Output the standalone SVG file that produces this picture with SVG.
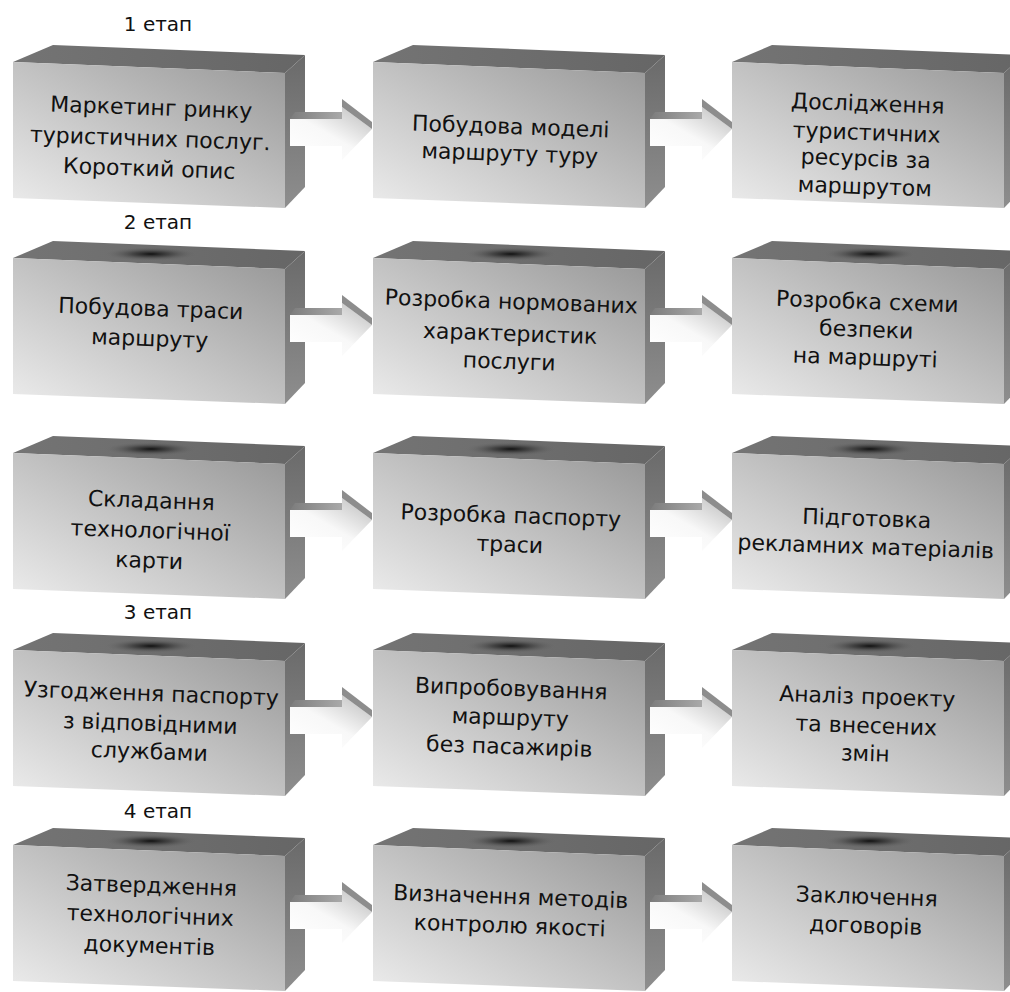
<svg xmlns="http://www.w3.org/2000/svg" xmlns:xlink="http://www.w3.org/1999/xlink" width="1010" height="992" viewBox="0 0 1010 992">
<style>
.front{fill:url(#gFront)}
.side{fill:url(#gSide)}
.top{fill:url(#gTop)}
.t{font-family:"DejaVu Sans","Liberation Sans",sans-serif;font-size:22px;fill:#111;text-anchor:middle}
.st{font-family:"DejaVu Sans","Liberation Sans",sans-serif;font-size:20px;fill:#111;text-anchor:middle}
</style>
<defs>
<linearGradient id="gFront" x1="0" y1="1" x2="1" y2="0">
<stop offset="0" stop-color="#ececec"/>
<stop offset="0.5" stop-color="#c2c2c2"/>
<stop offset="1" stop-color="#979797"/>
</linearGradient>
<linearGradient id="gSide" x1="0" y1="0" x2="0" y2="1">
<stop offset="0" stop-color="#6a6a6a"/>
<stop offset="1" stop-color="#8e8e8e"/>
</linearGradient>
<linearGradient id="gTop" x1="0" y1="0" x2="1" y2="0">
<stop offset="0" stop-color="#747474"/>
<stop offset="1" stop-color="#666666"/>
</linearGradient>
<radialGradient id="gSpot">
<stop offset="0" stop-color="#111111" stop-opacity="1"/>
<stop offset="0.4" stop-color="#333333" stop-opacity="0.7"/>
<stop offset="1" stop-color="#6b6b6b" stop-opacity="0"/>
</radialGradient>
<linearGradient id="gArrow" x1="0" y1="0.9" x2="0.8" y2="0">
<stop offset="0" stop-color="#ffffff"/>
<stop offset="0.5" stop-color="#f8f8f8"/>
<stop offset="1" stop-color="#c6c6c6"/>
</linearGradient>
<linearGradient id="gBevel" x1="0" y1="0" x2="1" y2="0">
<stop offset="0" stop-color="#7c7c7c"/>
<stop offset="1" stop-color="#a9a9a9"/>
</linearGradient>
<g id="box">
<polygon class="top" points="0,0 40,-17 292,-7 272,11"/>
<polygon class="side" points="272,11 292,-7 292,125 272,146"/>
<polygon class="front" points="0,0 272,11 272,146 0,136"/>
</g>
<ellipse id="spot" cx="138" cy="-4" rx="46" ry="7" fill="url(#gSpot)"/>
<g id="arrow">
<polygon fill="url(#gBevel)" points="282,50 329,50 329,57 277,57"/>
<polygon fill="url(#gArrow)" points="277,57 329,57 329,45 359,67 329,98 329,84 277,84"/>
<polygon fill="#8d8d8d" points="329,37 359,60 359,67 329,45"/>
</g>
</defs>

<g id="labels">
<text class="st" x="158" y="31">1 етап</text>
<text class="st" x="158" y="229">2 етап</text>
<text class="st" x="158" y="619">3 етап</text>
<text class="st" x="158" y="818">4 етап</text>
</g>

<g id="n11" transform="translate(13,62)"><use xlink:href="#box"/>
<text class="t" transform="rotate(2 137 84)"><tspan x="137" y="53">Маркетинг ринку</tspan><tspan x="137" y="84">туристичних послуг.</tspan><tspan x="137" y="114">Короткий опис</tspan></text></g>
<g id="n12" transform="translate(373,62)"><use xlink:href="#box"/>
<text class="t" transform="rotate(2 137 85)"><tspan x="137" y="72">Побудова моделі</tspan><tspan x="137" y="99">маршруту туру</tspan></text></g>
<g id="n13" transform="translate(732,62)"><use xlink:href="#box"/>
<text class="t" transform="rotate(2 134 90)"><tspan x="134" y="49">Дослідження</tspan><tspan x="134" y="78">туристичних</tspan><tspan x="134" y="104">ресурсів за</tspan><tspan x="134" y="132">маршрутом</tspan></text></g>

<g id="n21" transform="translate(13,258)"><use xlink:href="#box"/><use xlink:href="#spot"/>
<text class="t" transform="rotate(2 137 73)"><tspan x="137" y="58">Побудова траси</tspan><tspan x="137" y="88">маршруту</tspan></text></g>
<g id="n22" transform="translate(373,258)"><use xlink:href="#box"/><use xlink:href="#spot"/>
<text class="t" transform="rotate(2 137 81)"><tspan x="137" y="51">Розробка нормованих</tspan><tspan x="137" y="83">характеристик</tspan><tspan x="137" y="111">послуги</tspan></text></g>
<g id="n23" transform="translate(732,258)"><use xlink:href="#box"/><use xlink:href="#spot"/>
<text class="t" transform="rotate(2 134 79)"><tspan x="134" y="51">Розробка схеми</tspan><tspan x="134" y="79">безпеки</tspan><tspan x="134" y="107">на маршруті</tspan></text></g>

<g id="n31" transform="translate(13,453)"><use xlink:href="#box"/><use xlink:href="#spot"/>
<text class="t" transform="rotate(2 137 85)"><tspan x="137" y="55">Складання</tspan><tspan x="137" y="85">технологічної</tspan><tspan x="137" y="115">карти</tspan></text></g>
<g id="n32" transform="translate(373,453)"><use xlink:href="#box"/><use xlink:href="#spot"/>
<text class="t" transform="rotate(2 137 85)"><tspan x="137" y="70">Розробка паспорту</tspan><tspan x="137" y="99">траси</tspan></text></g>
<g id="n33" transform="translate(732,453)"><use xlink:href="#box"/><use xlink:href="#spot"/>
<text class="t" transform="rotate(2 134 87)"><tspan x="134" y="73">Підготовка</tspan><tspan x="134" y="101">рекламних матеріалів</tspan></text></g>

<g id="n41" transform="translate(13,650)"><use xlink:href="#box"/><use xlink:href="#spot"/>
<text class="t" transform="rotate(2 137 81)"><tspan x="137" y="51">Узгодження паспорту</tspan><tspan x="137" y="81">з відповідними</tspan><tspan x="137" y="109">службами</tspan></text></g>
<g id="n42" transform="translate(373,650)"><use xlink:href="#box"/><use xlink:href="#spot"/>
<text class="t" transform="rotate(2 137 75)"><tspan x="137" y="46">Випробовування</tspan><tspan x="137" y="75">маршруту</tspan><tspan x="137" y="104">без пасажирів</tspan></text></g>
<g id="n43" transform="translate(732,650)"><use xlink:href="#box"/><use xlink:href="#spot"/>
<text class="t" transform="rotate(2 134 83)"><tspan x="134" y="54">Аналіз проекту</tspan><tspan x="134" y="83">та внесених</tspan><tspan x="134" y="111">змін</tspan></text></g>

<g id="n51" transform="translate(13,845)"><use xlink:href="#box"/><use xlink:href="#spot"/>
<text class="t" transform="rotate(2 137 78)"><tspan x="137" y="48">Затвердження</tspan><tspan x="137" y="78">технологічних</tspan><tspan x="137" y="108">документів</tspan></text></g>
<g id="n52" transform="translate(373,845)"><use xlink:href="#box"/><use xlink:href="#spot"/>
<text class="t" transform="rotate(2 137 74)"><tspan x="137" y="59">Визначення методів</tspan><tspan x="137" y="88">контролю якості</tspan></text></g>
<g id="n53" transform="translate(732,845)"><use xlink:href="#box"/><use xlink:href="#spot"/>
<text class="t" transform="rotate(2 134 74)"><tspan x="134" y="59">Заключення</tspan><tspan x="134" y="88">договорів</tspan></text></g>

<g id="connectors">
<use xlink:href="#arrow" transform="translate(13,62)"/>
<use xlink:href="#arrow" transform="translate(373,62)"/>
<use xlink:href="#arrow" transform="translate(13,258)"/>
<use xlink:href="#arrow" transform="translate(373,258)"/>
<use xlink:href="#arrow" transform="translate(13,453)"/>
<use xlink:href="#arrow" transform="translate(373,453)"/>
<use xlink:href="#arrow" transform="translate(13,650)"/>
<use xlink:href="#arrow" transform="translate(373,650)"/>
<use xlink:href="#arrow" transform="translate(13,845)"/>
<use xlink:href="#arrow" transform="translate(373,845)"/>
</g>
</svg>
